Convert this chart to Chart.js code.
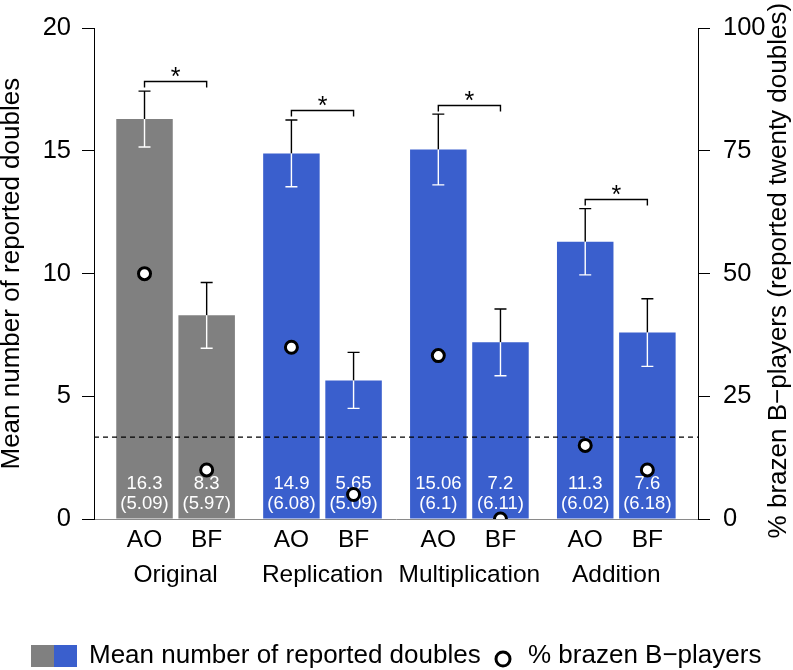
<!DOCTYPE html>
<html><head><meta charset="utf-8">
<script src="https://cdn.jsdelivr.net/npm/chart.js@4/dist/chart.umd.min.js"></script>
<style>html,body{margin:0;padding:0;background:#fff}</style>
</head><body>
<canvas id="c" width="793" height="670"></canvas>
<script>
// ---- data ----
const groups = ['Original', 'Replication', 'Multiplication', 'Addition'];
const conditions = ['AO', 'BF'];
const meanDoubles = [16.3, 8.3, 14.9, 5.65, 15.06, 7.2, 11.3, 7.6];
const sdDoubles = [5.09, 5.97, 6.08, 5.09, 6.1, 6.11, 6.02, 6.18];
const errorHalf = [1.14, 1.34, 1.36, 1.14, 1.44, 1.36, 1.35, 1.38];
const brazenPct = [50, 10, 35, 5, 33.3, 0, 15, 10];
const bracketHeights = [17.84, 16.68, 16.88, 13.04];
const chanceLevel = 16.67;
const leftTicks = [0, 5, 10, 15, 20];
const rightTicks = [0, 25, 50, 75, 100];

// ---- layout helpers ----
const FONT = '"Liberation Sans", Arial, Helvetica, sans-serif';
const GRAY = '#808080', BLUE = '#3A5FCD';
const xMin = -0.894, xMax = 9.796;
function barPos(g, k) { return g * 2.6 + k * 1.1; }
const barX = meanDoubles.map((v, i) => barPos(Math.floor(i / 2), i % 2));
const groupX = groups.map((g, i) => (barPos(i, 0) + barPos(i, 1)) / 2);

const overlay = {
  id: 'overlay',
  afterDatasetDraw(chart, args) {
    if (args.index !== 0) return;
    const ctx = chart.ctx, y = chart.scales.y, area = chart.chartArea;
    const bars = chart.getDatasetMeta(0).data;
    ctx.save();
    // value labels
    ctx.fillStyle = '#fff';
    ctx.font = '18.5px ' + FONT;
    ctx.textAlign = 'center';
    ctx.textBaseline = 'alphabetic';
    bars.forEach((b, i) => {
      ctx.fillText(String(meanDoubles[i]), b.x, area.bottom - 30);
      ctx.fillText('(' + sdDoubles[i] + ')', b.x, area.bottom - 10);
    });
    // error bars
    ctx.lineWidth = 1.4;
    bars.forEach((b, i) => {
      const top = y.getPixelForValue(meanDoubles[i] + errorHalf[i]);
      const bot = y.getPixelForValue(meanDoubles[i] - errorHalf[i]);
      const m = y.getPixelForValue(meanDoubles[i]);
      ctx.strokeStyle = '#000';
      ctx.beginPath();
      ctx.moveTo(b.x, m); ctx.lineTo(b.x, top);
      ctx.moveTo(b.x - 6, top); ctx.lineTo(b.x + 6, top);
      ctx.stroke();
      ctx.strokeStyle = '#fff';
      ctx.beginPath();
      ctx.moveTo(b.x, m); ctx.lineTo(b.x, bot);
      ctx.moveTo(b.x - 6, bot); ctx.lineTo(b.x + 6, bot);
      ctx.stroke();
    });
    // significance brackets
    ctx.strokeStyle = '#000';
    ctx.fillStyle = '#000';
    ctx.font = '25px ' + FONT;
    bracketHeights.forEach((h, g) => {
      const x1 = bars[2 * g].x, x2 = bars[2 * g + 1].x;
      const yb = Math.round(y.getPixelForValue(h)) + 0.5;
      ctx.beginPath();
      ctx.moveTo(x1, yb + 6); ctx.lineTo(x1, yb); ctx.lineTo(x2, yb); ctx.lineTo(x2, yb + 6);
      ctx.stroke();
      ctx.fillText('*', (x1 + x2) / 2, yb + 3);
    });
    ctx.restore();
  },
  afterDraw(chart) {
    const ctx = chart.ctx, area = chart.chartArea;
    ctx.save();
    // right axis title
    ctx.fillStyle = '#000';
    ctx.font = '26px ' + FONT;
    ctx.textAlign = 'center';
    ctx.textBaseline = 'middle';
    ctx.translate(779, (area.top + area.bottom) / 2 - 3);
    ctx.rotate(-Math.PI / 2);
    ctx.fillText('% brazen B\u2212players (reported twenty doubles)', 0, 0);
    ctx.restore();
    // legend
    ctx.save();
    ctx.fillStyle = GRAY; ctx.fillRect(31, 645, 23, 22);
    ctx.fillStyle = BLUE; ctx.fillRect(54, 645, 23, 22);
    ctx.fillStyle = '#000';
    ctx.font = '26px ' + FONT;
    ctx.textAlign = 'left';
    ctx.textBaseline = 'middle';
    ctx.fillText('Mean number of reported doubles', 89, 656);
    ctx.beginPath();
    ctx.arc(503, 659, 7, 0, Math.PI * 2);
    ctx.fillStyle = '#fff'; ctx.fill();
    ctx.lineWidth = 3; ctx.strokeStyle = '#000'; ctx.stroke();
    ctx.fillStyle = '#000';
    ctx.fillText('% brazen B\u2212players', 528, 656);
    ctx.restore();
  }
};

new Chart(document.getElementById('c'), {
  type: 'bar',
  data: {
    datasets: [
      {
        type: 'bar',
        data: meanDoubles.map((v, i) => ({ x: barX[i], y: v })),
        backgroundColor: meanDoubles.map((v, i) => (i < 2 ? GRAY : BLUE)),
        borderWidth: 0,
        barPercentage: 1 / 1.1,
        categoryPercentage: 1,
        xAxisID: 'x', yAxisID: 'y',
        order: 3
      },
      {
        type: 'line',
        data: [{ x: xMin, y: chanceLevel }, { x: xMax, y: chanceLevel }],
        borderColor: '#000',
        borderWidth: 1.2,
        borderDash: [5, 4],
        pointRadius: 0,
        fill: false,
        xAxisID: 'x', yAxisID: 'y2',
        order: 2
      },
      {
        type: 'scatter',
        data: brazenPct.map((v, i) => ({ x: barX[i], y: v })),
        backgroundColor: '#fff',
        borderColor: '#000',
        pointRadius: 6,
        pointBorderWidth: 3,
        pointHoverRadius: 6,
        clip: 0,
        xAxisID: 'x', yAxisID: 'y2',
        order: 1
      }
    ]
  },
  options: {
    responsive: false,
    animation: false,
    devicePixelRatio: 1,
    layout: { padding: { top: 19, left: 0, right: 0, bottom: 0 } },
    plugins: { legend: { display: false }, tooltip: { enabled: false } },
    scales: {
      x: {
        type: 'linear', position: 'bottom', weight: 0,
        min: xMin, max: xMax, offset: false,
        grid: { display: false, drawTicks: false },
        border: { display: true, color: '#8a8a8a', width: 1 },
        afterBuildTicks: s => { s.ticks = barX.map(v => ({ value: v })); },
        afterFit: s => { s.height = 38; },
        ticks: {
          autoSkip: false, maxRotation: 0, minRotation: 0, padding: 3,
          color: '#000', font: { family: FONT, size: 24.5, lineHeight: 1.47 },
          callback: (v, i) => conditions[i % 2]
        }
      },
      x2: {
        type: 'linear', position: 'bottom', weight: 1,
        min: xMin, max: xMax, offset: false,
        grid: { display: false, drawTicks: false },
        border: { display: false },
        afterBuildTicks: s => { s.ticks = groupX.map(v => ({ value: v })); },
        afterFit: s => { s.height = 113; },
        ticks: {
          autoSkip: false, maxRotation: 0, minRotation: 0, padding: 4,
          color: '#000', font: { family: FONT, size: 24.5, lineHeight: 1.2 },
          callback: (v, i) => groups[i]
        }
      },
      y: {
        type: 'linear', position: 'left',
        min: 0, max: 20,
        afterBuildTicks: s => { s.ticks = leftTicks.map(v => ({ value: v })); },
        afterFit: s => { s.width = 94; },
        grid: { drawOnChartArea: false, drawTicks: true, tickLength: 12, color: '#000', lineWidth: 1 },
        border: { display: true, color: '#000', width: 1 },
        ticks: { color: '#000', padding: 11, font: { family: FONT, size: 25.5 } },
        title: {
          display: true, text: 'Mean number of reported doubles', color: '#000',
          font: { family: FONT, size: 26, lineHeight: 0.8 }, padding: { top: 1.6, bottom: 0 }
        }
      },
      y2: {
        type: 'linear', position: 'right',
        min: 0, max: 100,
        afterBuildTicks: s => { s.ticks = rightTicks.map(v => ({ value: v })); },
        afterFit: s => { s.width = 95; },
        grid: { drawOnChartArea: false, drawTicks: true, tickLength: 12, color: '#000', lineWidth: 1 },
        border: { display: true, color: '#000', width: 1 },
        ticks: { color: '#000', padding: 13, font: { family: FONT, size: 25.5 } }
      }
    }
  },
  plugins: [overlay]
});
</script>
</body></html>
